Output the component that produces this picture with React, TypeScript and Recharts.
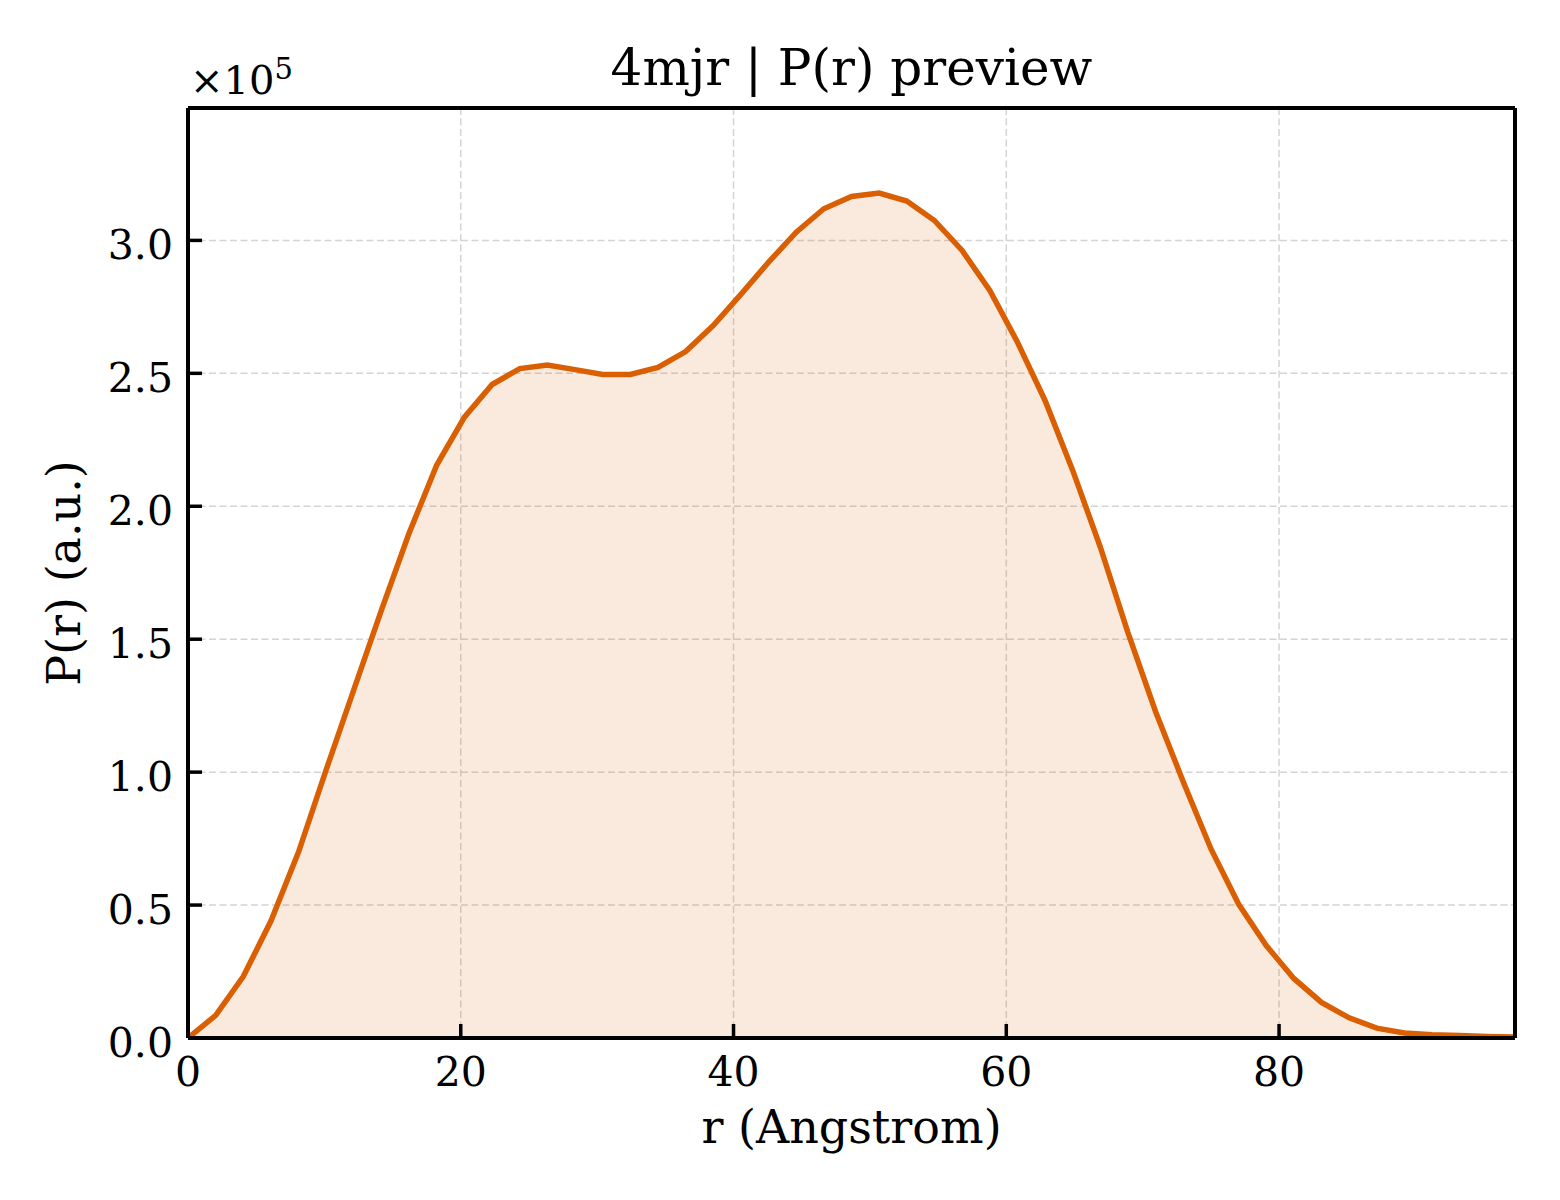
import React from 'react';
import { ComposedChart, Area, XAxis, YAxis, CartesianGrid, ReferenceLine } from 'recharts';

// r (Angstrom)
const rValues = [
  0, 2.03, 4.05, 6.08, 8.11, 10.14, 12.16, 14.19, 16.22, 18.24,
  20.27, 22.3, 24.33, 26.35, 28.38, 30.41, 32.43, 34.46, 36.49, 38.51,
  40.54, 42.57, 44.6, 46.62, 48.65, 50.68, 52.7, 54.73, 56.76, 58.79,
  60.81, 62.84, 64.87, 66.89, 68.92, 70.95, 72.98, 75.0, 77.03, 79.06,
  81.08, 83.11, 85.14, 87.16, 89.19, 91.22, 93.25, 95.27, 97.3,
];

// P(r) (a.u.)
const pValues = [
  0, 8500, 23100, 44000, 70000, 101000, 131000, 161000, 190000, 215500,
  233500, 245800, 251800, 253100, 251400, 249600, 249600, 252200, 258200, 268000,
  279700, 291800, 303100, 311900, 316500, 317800, 314800, 307500, 296200, 281200,
  261800, 239800, 213500, 184700, 152500, 122700, 96300, 71200, 50400, 34800,
  22400, 13400, 7600, 3700, 1900, 1200, 900, 600, 400,
];

const xTicks = [0, 20, 40, 60, 80];
const yTicks = [0, 50000, 100000, 150000, 200000, 250000, 300000];
const X_MAX = 97.3;
const Y_MAX = 349800;

const data = rValues.map((r, i) => ({ r, p: pValues[i] }));

const W = 1560;
const H = 1200;
const PLOT_LEFT = 188;
const PLOT_BOTTOM = 1038;
const FONT = '"DejaVu Serif", serif';
const LINE = '#D95F02';
const TICK_LEN = 14;
const TICK_FONT = 41;
const FRAME_W = 4;

const XTick = (props: any) => {
  const { x, payload } = props;
  return (
    <g>
      <line x1={x} x2={x} y1={PLOT_BOTTOM} y2={PLOT_BOTTOM - TICK_LEN} stroke="#000" strokeWidth={3.5} />
      <text x={x} y={PLOT_BOTTOM + 48} textAnchor="middle" fontFamily={FONT} fontSize={TICK_FONT} fill="#000">
        {payload.value}
      </text>
    </g>
  );
};

const YTick = (props: any) => {
  const { y, payload } = props;
  return (
    <g>
      <line x1={PLOT_LEFT} x2={PLOT_LEFT + TICK_LEN} y1={y} y2={y} stroke="#000" strokeWidth={3.5} />
      <text x={PLOT_LEFT - 15} y={y + 18.5} textAnchor="end" fontFamily={FONT} fontSize={TICK_FONT} fill="#000">
        {(payload.value / 1e5).toFixed(1)}
      </text>
    </g>
  );
};

export default function App() {
  return (
    <div style={{ position: 'absolute', left: 0, top: 0, width: W, height: H, background: '#fff' }}>
      <ComposedChart
        width={W}
        height={H}
        data={data}
        margin={{ top: 108, right: 45, bottom: 102, left: 88 }}
      >
        <CartesianGrid stroke="#d4d4d4" strokeWidth={1.5} strokeDasharray="7 3.5" />
        <XAxis
          type="number"
          dataKey="r"
          domain={[0, X_MAX]}
          ticks={xTicks}
          allowDataOverflow
          height={60}
          tickLine={false}
          axisLine={{ stroke: '#000', strokeWidth: FRAME_W }}
          tick={XTick}
          interval={0}
        />
        <YAxis
          type="number"
          domain={[0, Y_MAX]}
          ticks={yTicks}
          allowDataOverflow
          width={100}
          tickLine={false}
          axisLine={{ stroke: '#000', strokeWidth: FRAME_W }}
          tick={YTick}
          interval={0}
        />
        <Area
          type="linear"
          dataKey="p"
          stroke={LINE}
          strokeWidth={5.5}
          fill={LINE}
          fillOpacity={0.13}
          dot={false}
          activeDot={false}
          isAnimationActive={false}
        />
        <ReferenceLine y={Y_MAX} stroke="#000" strokeWidth={FRAME_W} ifOverflow="visible" />
        <ReferenceLine x={X_MAX} stroke="#000" strokeWidth={FRAME_W} ifOverflow="visible" />
      </ComposedChart>
      <svg
        width={W}
        height={H}
        style={{ position: 'absolute', left: 0, top: 0, pointerEvents: 'none' }}
      >
        <text x={851.5} y={85} textAnchor="middle" fontFamily={FONT} fontSize={50} fill="#000">
          4mjr | P(r) preview
        </text>
        <text x={190} y={94} fontFamily={FONT} fontSize={40} fill="#000">
          ×10
          <tspan fontSize={29} dy={-15}>5</tspan>
        </text>
        <text x={851.5} y={1143} textAnchor="middle" fontFamily={FONT} fontSize={46} fill="#000">
          r (Angstrom)
        </text>
        <text
          x={80}
          y={573}
          textAnchor="middle"
          fontFamily={FONT}
          fontSize={46}
          fill="#000"
          transform="rotate(-90, 80, 573)"
        >
          P(r) (a.u.)
        </text>
      </svg>
    </div>
  );
}
